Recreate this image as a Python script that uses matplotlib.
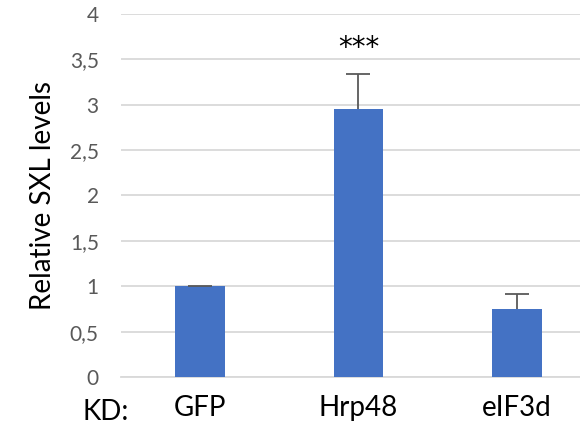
import numpy as np
import matplotlib
matplotlib.use("Agg")
import matplotlib.pyplot as plt

plt.rcParams["font.family"] = ["Lato", "DejaVu Sans"]

categories = ["GFP", "Hrp48", "eIF3d"]
values = [1.0, 2.95, 0.745]
errors = [0.005, 0.39, 0.17]
yticks = [0, 0.5, 1, 1.5, 2, 2.5, 3, 3.5, 4]
ytick_labels = ["0", "0,5", "1", "1,5", "2", "2,5", "3", "3,5", "4"]

BLUE = "#4472C4"
GRID = "#d9d9d9"
TICK = "#595959"

fig = plt.figure(figsize=(5.8, 4.29), dpi=100)
ax = fig.add_axes([0.2086, 0.1212, 0.819, 0.8462])

x = np.arange(len(categories))
tops = np.array(values) + np.array(errors)
# upper-only error bars: stem behind the bar, cap marker on top
ax.errorbar(x, values, yerr=[[0] * len(errors), errors], fmt="none",
            ecolor=TICK, elinewidth=1.3, capsize=0, zorder=2)
ax.bar(x, values, width=0.315, color=BLUE, zorder=3)
ax.plot(x, tops, ls="none", marker="_", ms=17, mew=1.3, color=TICK, zorder=4)

ax.text(x[1], 3.63, "***", ha="center", va="center", fontsize=20,
        color="black", family="DejaVu Sans")

ax.set_xlim(-0.5, 2.5)
ax.set_ylim(0, 4)
ax.set_yticks(yticks)
ax.set_yticklabels(ytick_labels)
ax.yaxis.grid(True, color=GRID, lw=1.3, zorder=0)
ax.set_axisbelow(True)
ax.tick_params(axis="y", length=0, pad=16, labelsize=15, labelcolor=TICK)
ax.set_xticks(x)
ax.set_xticklabels(categories)
ax.tick_params(axis="x", length=0, pad=13, labelsize=20, labelcolor="black")

for s in ("top", "right", "left"):
    ax.spines[s].set_visible(False)
ax.spines["bottom"].set_color(GRID)
ax.spines["bottom"].set_linewidth(1.3)

ax.set_ylabel("Relative SXL levels", fontsize=20, color="black", labelpad=10)
fig.text(106 / 580, 1 - 412 / 429, "KD:", fontsize=20, ha="center", va="center")

fig.savefig("out.png", dpi=100)
